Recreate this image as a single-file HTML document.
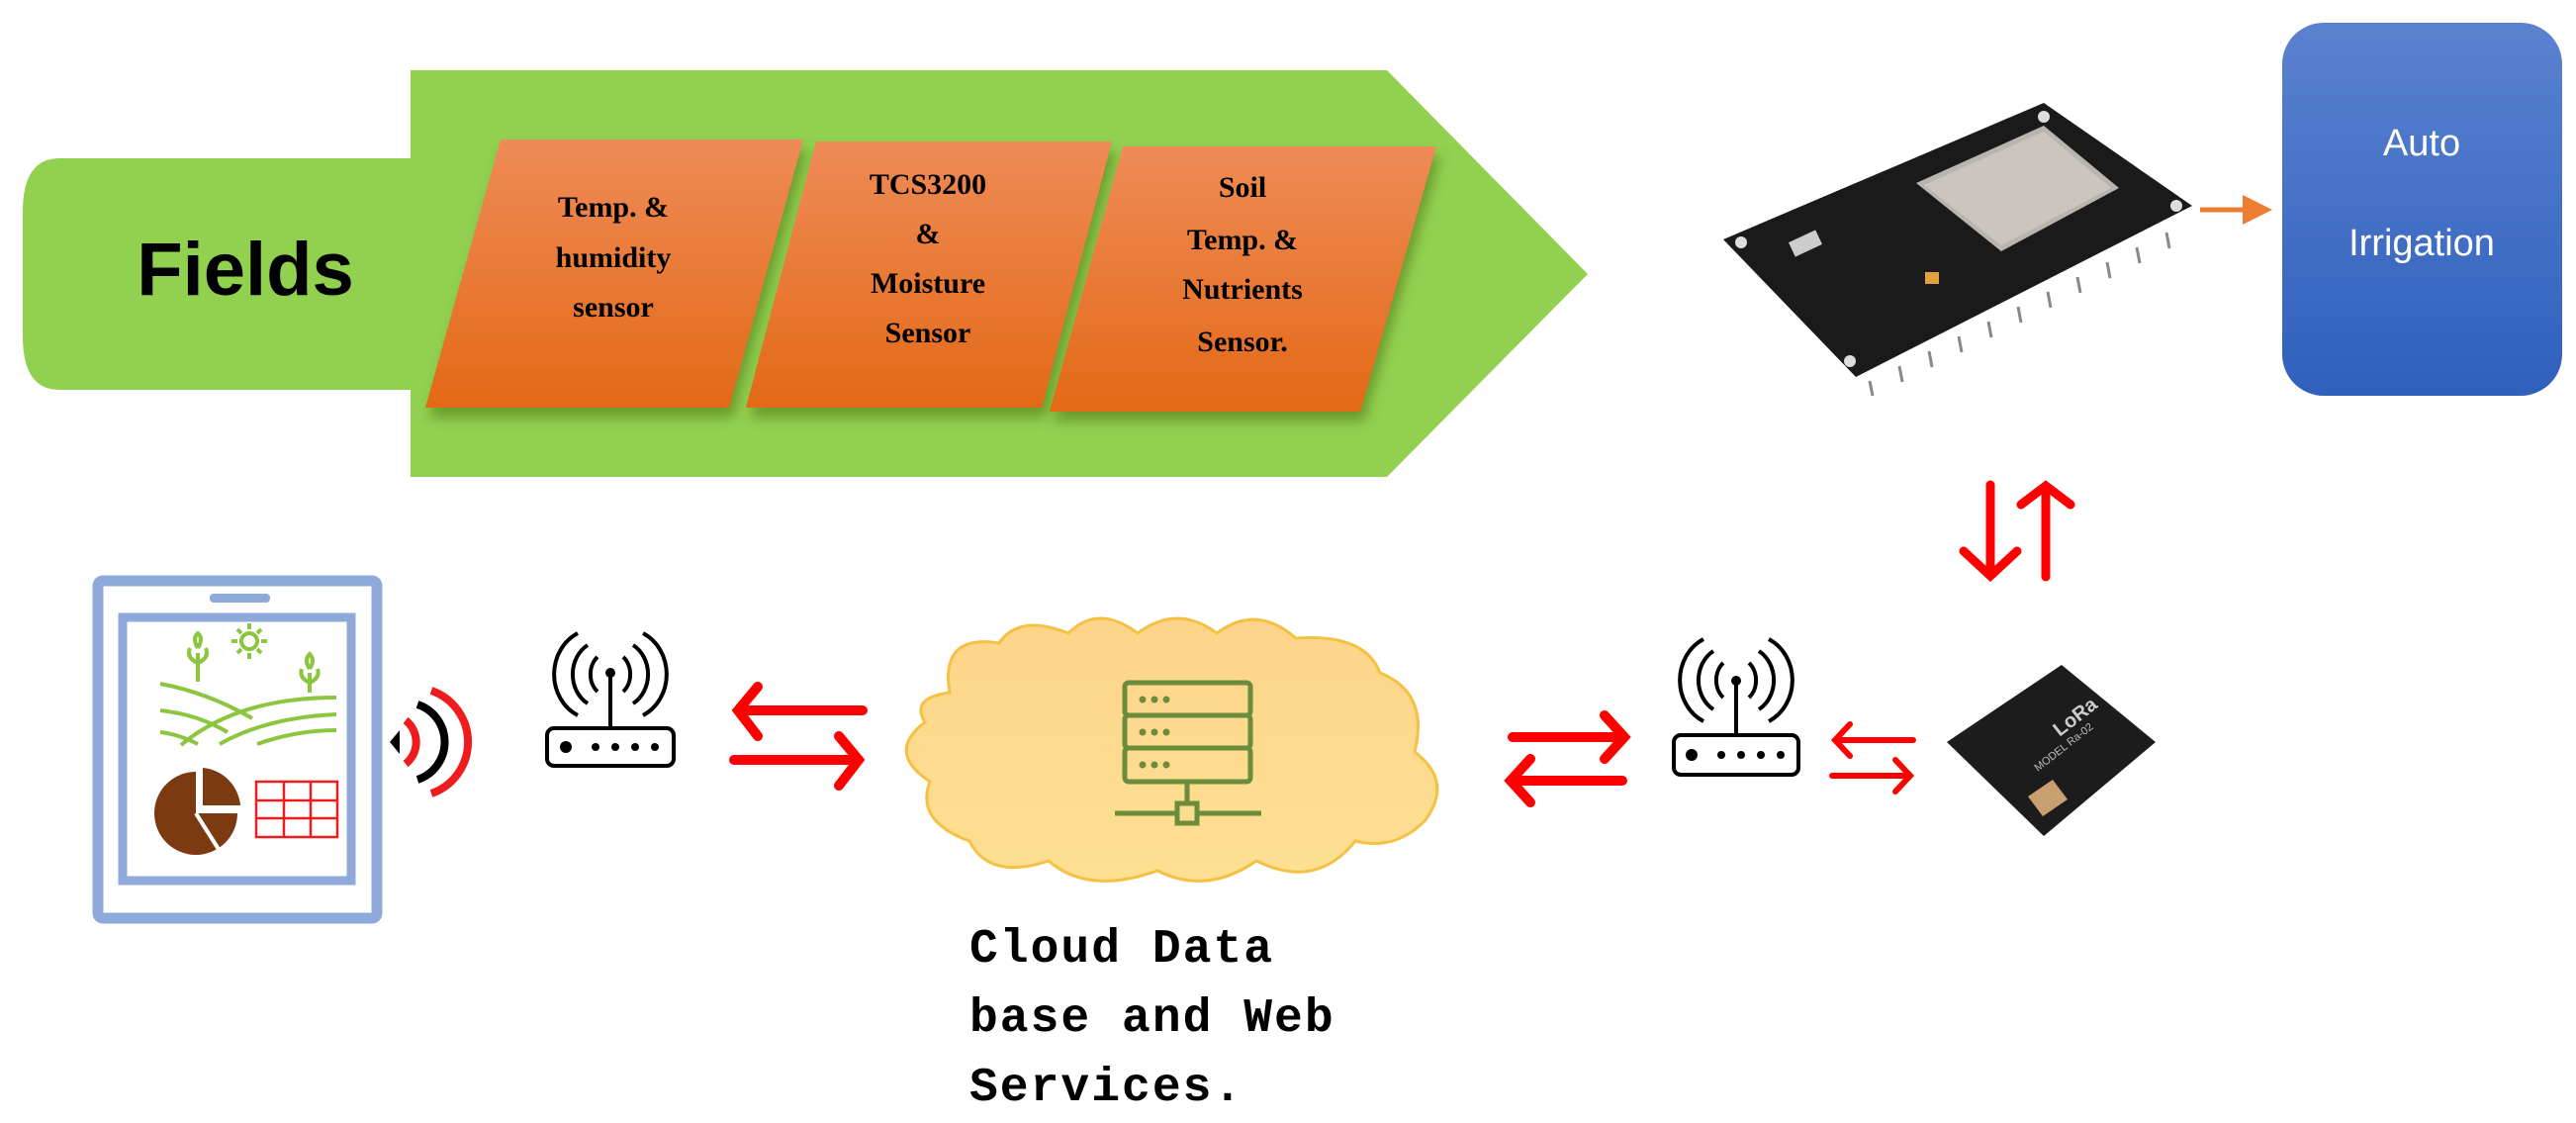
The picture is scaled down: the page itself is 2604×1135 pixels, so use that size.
<!DOCTYPE html>
<html><head><meta charset="utf-8"><style>
html,body{margin:0;padding:0;background:#fff;}
svg{display:block;}
.s{font-family:"Liberation Serif",serif;font-weight:bold;font-size:30px;fill:#000;text-anchor:middle;}
.c{font-family:"Liberation Mono",monospace;font-weight:bold;font-size:48px;fill:#000;letter-spacing:2px;}
</style></head><body>
<svg width="2604" height="1135" viewBox="0 0 2604 1135" xmlns="http://www.w3.org/2000/svg">
<defs>
<linearGradient id="og" x1="0" y1="0" x2="0" y2="1"><stop offset="0" stop-color="#ef8b57"/><stop offset="1" stop-color="#e36916"/></linearGradient>
<linearGradient id="bg" x1="0" y1="0" x2="0" y2="1"><stop offset="0" stop-color="#5b82cf"/><stop offset="1" stop-color="#2e60bc"/></linearGradient>
<linearGradient id="cg" x1="0" y1="0" x2="0" y2="1"><stop offset="0" stop-color="#fdd48a"/><stop offset="1" stop-color="#fde092"/></linearGradient>
<filter id="sh" x="-10%" y="-10%" width="130%" height="130%"><feDropShadow dx="4" dy="10" stdDeviation="6" flood-color="#3a5a10" flood-opacity="0.45"/></filter>
<marker id="oa" markerWidth="6" markerHeight="6" refX="5" refY="3" orient="auto"><path d="M0,0 L6,3 L0,6 z" fill="#ed7d31"/></marker>
</defs>
<!-- green shapes -->
<path d="M60,160 H415 V394 H60 Q23,394 23,340 V214 Q23,160 60,160 Z" fill="#92d050"/>
<polygon points="415,71 1402,71 1605,277 1402,482 415,482" fill="#92d050"/>
<text x="248" y="298" font-family="Liberation Sans,sans-serif" font-weight="bold" font-size="76" text-anchor="middle">Fields</text>
<!-- orange parallelograms -->
<g filter="url(#sh)">
<polygon points="506,141 812,141 737,412 430,412" fill="url(#og)"/>
<polygon points="825,143 1124,143 1053,412 754,412" fill="url(#og)"/>
<polygon points="1135,148 1452,148 1375,416 1061,416" fill="url(#og)"/>
</g>
<text class="s" x="620" y="219">Temp. &amp;</text>
<text class="s" x="620" y="270">humidity</text>
<text class="s" x="620" y="320">sensor</text>
<text class="s" x="938" y="196">TCS3200</text>
<text class="s" x="938" y="246">&amp;</text>
<text class="s" x="938" y="296">Moisture</text>
<text class="s" x="938" y="346">Sensor</text>
<text class="s" x="1256" y="199">Soil</text>
<text class="s" x="1256" y="252">Temp. &amp;</text>
<text class="s" x="1256" y="302">Nutrients</text>
<text class="s" x="1256" y="355">Sensor.</text>
<!-- ESP32 board -->
<g>
<polygon points="1742,242 2066,104 2216,208 1876,381" fill="#1a1a1a"/>
<g stroke="#888" stroke-width="3">
<line x1="1890" y1="385" x2="1893" y2="400"/><line x1="1920" y1="370" x2="1923" y2="386"/><line x1="1950" y1="355" x2="1953" y2="371"/><line x1="1980" y1="340" x2="1983" y2="356"/><line x1="2010" y1="325" x2="2013" y2="341"/><line x1="2040" y1="310" x2="2043" y2="326"/><line x1="2070" y1="295" x2="2073" y2="311"/><line x1="2100" y1="280" x2="2103" y2="296"/><line x1="2130" y1="265" x2="2133" y2="281"/><line x1="2160" y1="250" x2="2163" y2="266"/><line x1="2190" y1="235" x2="2193" y2="251"/>
</g>
<polygon points="1937,185 2066,127 2142,190 2023,254" fill="#b9b5ae"/>
<polygon points="1945,187 2066,133 2134,190 2023,248" fill="#cac6bf"/>
<rect x="1810" y="238" width="30" height="16" fill="#ccc" transform="rotate(-25 1825 246)"/>
<rect x="1946" y="275" width="14" height="12" fill="#e0a040"/>
<circle cx="1760" cy="245" r="6" fill="#ddd"/><circle cx="2066" cy="118" r="6" fill="#ddd"/><circle cx="2200" cy="208" r="6" fill="#ddd"/><circle cx="1870" cy="365" r="6" fill="#ddd"/>
</g>
<!-- orange arrow -->
<line x1="2224" y1="212" x2="2292" y2="212" stroke="#ed7d31" stroke-width="5" marker-end="url(#oa)"/>
<!-- Auto Irrigation -->
<rect x="2307" y="23" width="283" height="377" rx="42" fill="url(#bg)"/>
<text x="2448" y="157" font-family="Liberation Sans,sans-serif" font-size="38" fill="#fff" text-anchor="middle">Auto</text>
<text x="2448" y="258" font-family="Liberation Sans,sans-serif" font-size="38" fill="#fff" text-anchor="middle">Irrigation</text>
<!-- vertical red arrows -->
<g stroke="#ff0000" stroke-width="9" fill="none" stroke-linecap="round">
<line x1="2012" y1="490" x2="2012" y2="580"/><polyline points="1985,557 2012,582 2039,557"/>
<line x1="2068" y1="583" x2="2068" y2="494"/><polyline points="2043,510 2068,491 2093,510"/>
</g>
<!-- LoRa module -->
<polygon points="1968,750 2084,672 2179,750 2066,845" fill="#1c1c1c"/>
<polygon points="2050,805 2075,788 2090,808 2065,825" fill="#c8a070"/>
<text x="2082" y="745" font-family="Liberation Sans,sans-serif" font-size="20" font-weight="bold" fill="#ccc" transform="rotate(-38 2082 745)">LoRa</text>
<text x="2060" y="780" font-family="Liberation Sans,sans-serif" font-size="11" fill="#bbb" transform="rotate(-38 2060 780)">MODEL  Ra-02</text>
<!-- small arrows router-lora -->
<g stroke="#ff0000" stroke-width="6" fill="none" stroke-linecap="round">
<line x1="1934" y1="748" x2="1856" y2="748"/><polyline points="1870,732 1855,748 1870,764"/>
<line x1="1852" y1="784" x2="1930" y2="784"/><polyline points="1916,768 1931,784 1916,800"/>
</g>
<!-- routers -->
<g id="r1" fill="none" stroke="#000" stroke-width="4">
<rect x="1692" y="743" width="126" height="40" rx="7"/>
<line x1="1755" y1="743" x2="1755" y2="688"/>
<path d="M1742,670 A18,22 0 0 0 1742,705"/><path d="M1768,670 A18,22 0 0 1 1768,705"/>
<path d="M1732,658 A30,34 0 0 0 1732,717"/><path d="M1778,658 A30,34 0 0 1 1778,717"/>
<path d="M1722,646 A42,46 0 0 0 1722,729"/><path d="M1788,646 A42,46 0 0 1 1788,729"/>
</g>
<circle cx="1755" cy="688" r="5" fill="#000"/>
<g fill="#000"><circle cx="1710" cy="763" r="6"/><circle cx="1740" cy="763" r="4"/><circle cx="1760" cy="763" r="4"/><circle cx="1780" cy="763" r="4"/><circle cx="1800" cy="763" r="4"/></g>
<g fill="none" stroke="#000" stroke-width="4">
<rect x="553" y="736" width="128" height="38" rx="7"/>
<line x1="617" y1="736" x2="617" y2="680"/>
<path d="M604,664 A18,22 0 0 0 604,699"/><path d="M630,664 A18,22 0 0 1 630,699"/>
<path d="M594,652 A30,34 0 0 0 594,711"/><path d="M640,652 A30,34 0 0 1 640,711"/>
<path d="M584,640 A42,46 0 0 0 584,723"/><path d="M650,640 A42,46 0 0 1 650,723"/>
</g>
<circle cx="617" cy="680" r="5" fill="#000"/>
<g fill="#000"><circle cx="572" cy="755" r="6"/><circle cx="602" cy="755" r="4"/><circle cx="622" cy="755" r="4"/><circle cx="642" cy="755" r="4"/><circle cx="662" cy="755" r="4"/></g>
<!-- red arrows near left router -->
<g stroke="#ff0000" stroke-width="10" fill="none" stroke-linecap="round">
<line x1="872" y1="718" x2="748" y2="718"/><polyline points="766,694 746,718 766,744"/>
<line x1="742" y1="768" x2="866" y2="768"/><polyline points="848,744 868,768 848,794"/>
<line x1="1529" y1="745" x2="1640" y2="745"/><polyline points="1622,723 1642,745 1622,767"/>
<line x1="1640" y1="789" x2="1529" y2="789"/><polyline points="1547,767 1527,789 1547,811"/>
</g>
<!-- cloud -->
<path d="M960,700 Q950,640 1010,650 Q1030,620 1080,640 Q1110,610 1150,640 Q1190,610 1230,640 Q1270,610 1310,645 Q1380,640 1395,680 Q1445,700 1430,760 Q1470,790 1440,830 Q1410,860 1370,850 Q1330,900 1270,870 Q1220,905 1170,880 Q1100,905 1060,870 Q1000,890 980,850 Q925,830 940,790 Q895,760 935,730 Q920,705 960,700 Z" fill="url(#cg)" stroke="#f4c142" stroke-width="3"/>
<!-- server -->
<g fill="none" stroke="#6b8c3b" stroke-width="5">
<rect x="1137" y="690" width="127" height="33" rx="4"/>
<rect x="1137" y="723" width="127" height="33" rx="4"/>
<rect x="1137" y="756" width="127" height="34" rx="4"/>
<line x1="1200" y1="790" x2="1200" y2="813"/>
<line x1="1127" y1="822" x2="1190" y2="822"/><line x1="1210" y1="822" x2="1275" y2="822"/>
<rect x="1190" y="812" width="20" height="20"/>
</g>
<g fill="#6b8c3b"><circle cx="1155" cy="707" r="3.5"/><circle cx="1167" cy="707" r="3.5"/><circle cx="1179" cy="707" r="3.5"/><circle cx="1155" cy="740" r="3.5"/><circle cx="1167" cy="740" r="3.5"/><circle cx="1179" cy="740" r="3.5"/><circle cx="1155" cy="773" r="3.5"/><circle cx="1167" cy="773" r="3.5"/><circle cx="1179" cy="773" r="3.5"/></g>
<text class="c" x="980" y="972">Cloud Data</text>
<text class="c" x="980" y="1042">base and Web</text>
<text class="c" x="980" y="1112">Services.</text>
<!-- phone -->
<rect x="99" y="587" width="282" height="341" rx="5" fill="none" stroke="#8eaadb" stroke-width="11"/>
<rect x="212" y="600" width="61" height="9" rx="4" fill="#8eaadb"/>
<rect x="124" y="624" width="231" height="266" fill="none" stroke="#8eaadb" stroke-width="9"/>
<g fill="none" stroke="#8cc63f" stroke-width="4">
<circle cx="252" cy="648" r="8"/>
<path d="M252,630v6M252,660v6M234,648h6M264,648h6M240,636l4,4M260,656l4,4M264,636l-4,4M244,656l-4,4"/>
<path d="M162,691 Q210,700 255,726"/><path d="M162,718 Q200,722 230,740"/><path d="M162,740 Q180,742 200,752"/>
<path d="M183,753 Q240,705 340,705"/><path d="M222,752 Q270,725 340,722"/><path d="M260,752 Q300,738 340,738"/>
<path d="M200,689 V660 M200,670 Q188,665 192,655 M200,670 Q212,665 208,655 M200,655 Q194,645 200,640 Q206,645 200,655"/>
<path d="M313,700 V680 M313,690 Q302,685 305,676 M313,690 Q324,685 321,676 M313,676 Q307,667 313,661 Q319,667 313,676"/>
</g>
<path d="M198,780 A42,42 0 1 0 240,822 L198,822 Z" fill="#7b3a10"/>
<path d="M202,778 A42,42 0 0 1 240,816 L202,816 Z" fill="#7b3a10" transform="translate(3,-2)"/>
<line x1="198" y1="822" x2="222" y2="860" stroke="#fff" stroke-width="4"/>
<g fill="none" stroke="#ee1c1c" stroke-width="2.5">
<rect x="259" y="790" width="82" height="56"/>
<line x1="259" y1="809" x2="341" y2="809"/><line x1="259" y1="827" x2="341" y2="827"/>
<line x1="287" y1="790" x2="287" y2="846"/><line x1="314" y1="790" x2="314" y2="846"/>
</g>
<!-- signal -->
<path d="M394,750 L404,738 L404,762 Z" fill="#000"/>
<g fill="none" stroke-width="8">
<path d="M410,728 A28,28 0 0 1 410,772" stroke="#ee1c1c"/>
<path d="M422,712 A40,40 0 0 1 422,788" stroke="#000"/>
<path d="M436,698 A55,55 0 0 1 436,802" stroke="#ee1c1c"/>
</g>
</svg>
</body></html>
